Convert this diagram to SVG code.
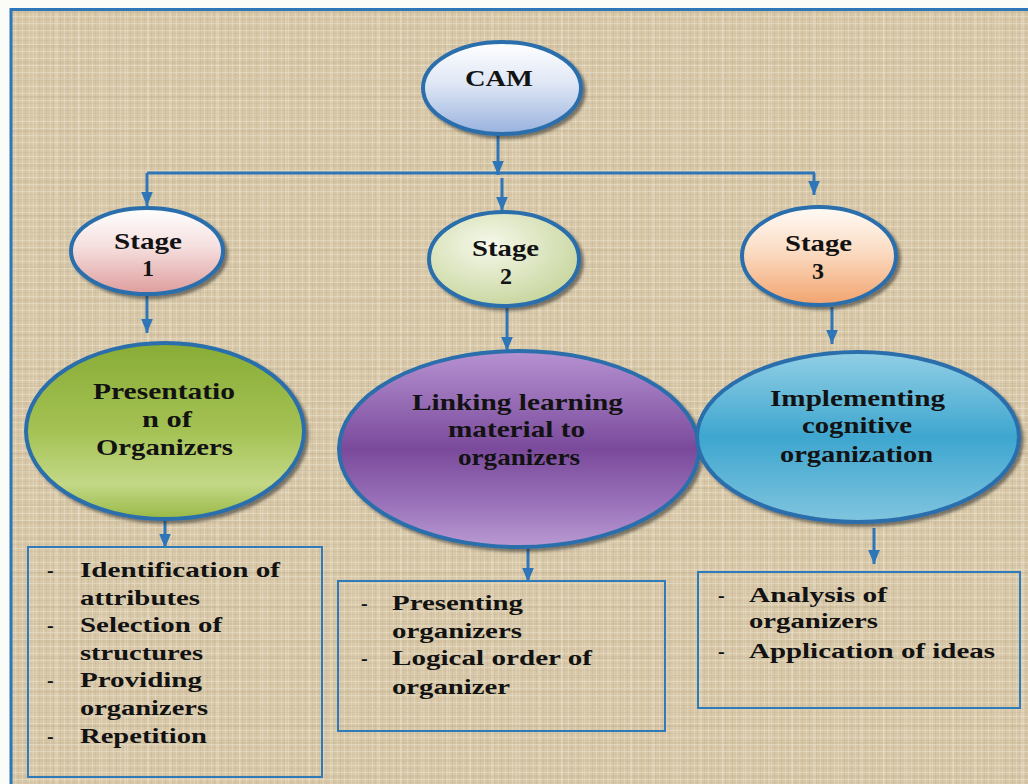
<svg xmlns="http://www.w3.org/2000/svg" width="1028" height="784" viewBox="0 0 1028 784">
<defs>
<style>
.t{font-family:"Liberation Serif","Times New Roman",Times,serif;font-weight:bold;fill:#121212}
.big{font-size:24px}
.box{font-size:20px}
.el{stroke:#2a6eab;stroke-width:4}
.bx{fill:none;stroke:#2f7ab8;stroke-width:2}
.cn{fill:none;stroke:#2f76b8;stroke-width:3}
</style>
<pattern id="texA" width="7" height="7" patternUnits="userSpaceOnUse">
<rect width="7" height="7" fill="#d8c8a8"/>
<rect x="1" y="0" width="1" height="7" fill="#e6dcc6" opacity="0.6"/>
<rect x="4" y="0" width="1" height="7" fill="#c4b394" opacity="0.4"/>
<rect x="0" y="2" width="7" height="1" fill="#e8dfca" opacity="0.6"/>
<rect x="0" y="5" width="7" height="1" fill="#c6b596" opacity="0.35"/>
</pattern>
<pattern id="texB" width="23" height="17" patternUnits="userSpaceOnUse">
<rect x="9" y="0" width="2" height="17" fill="#efe7d5" opacity="0.3"/>
<rect x="0" y="11" width="23" height="2" fill="#b9a888" opacity="0.2"/>
</pattern>
<linearGradient id="gCam" x1="0" y1="0" x2="0" y2="1">
<stop offset="0" stop-color="#ffffff"/><stop offset="0.45" stop-color="#dfe7f5"/><stop offset="1" stop-color="#98b1de"/>
</linearGradient>
<linearGradient id="gS1" x1="0" y1="0" x2="0" y2="1">
<stop offset="0" stop-color="#ffffff"/><stop offset="0.45" stop-color="#f6dfdf"/><stop offset="1" stop-color="#de9c9c"/>
</linearGradient>
<radialGradient id="gS2" cx="0.4" cy="0.35" r="0.7">
<stop offset="0" stop-color="#f6f8ea"/><stop offset="1" stop-color="#c6d59c"/>
</radialGradient>
<linearGradient id="gS3" x1="0" y1="0" x2="0" y2="1">
<stop offset="0" stop-color="#fffbf7"/><stop offset="0.45" stop-color="#fbdcc3"/><stop offset="1" stop-color="#f2a36e"/>
</linearGradient>
<linearGradient id="gGreen" x1="0" y1="0" x2="0" y2="1">
<stop offset="0" stop-color="#89ac36"/><stop offset="0.5" stop-color="#a4c254"/><stop offset="0.8" stop-color="#c3d886"/><stop offset="1" stop-color="#98b946"/>
</linearGradient>
<linearGradient id="gPurple" x1="0" y1="0" x2="0" y2="1">
<stop offset="0" stop-color="#b692d2"/><stop offset="0.5" stop-color="#7a4a9b"/><stop offset="0.78" stop-color="#9a72ba"/><stop offset="1" stop-color="#b99ad2"/>
</linearGradient>
<linearGradient id="gBlue" x1="0" y1="0" x2="0" y2="1">
<stop offset="0" stop-color="#92cfe5"/><stop offset="0.5" stop-color="#3ea6cf"/><stop offset="1" stop-color="#80c5df"/>
</linearGradient>
<filter id="sh" x="-10%" y="-10%" width="125%" height="130%">
<feDropShadow dx="3" dy="3" stdDeviation="1.5" flood-color="#2a2a2a" flood-opacity="0.55"/>
</filter>
<marker id="ar" viewBox="0 0 12 10" refX="12" refY="5" markerWidth="14" markerHeight="12" markerUnits="userSpaceOnUse" orient="auto">
<path d="M0,0 L12,5 L0,10 z" fill="#2f76b8"/>
</marker>
</defs>

<rect width="1028" height="784" fill="#fbfbf8"/>
<rect x="10" y="9" width="1018" height="775" fill="url(#texA)"/>
<rect x="10" y="9" width="1018" height="775" fill="url(#texB)"/>
<path d="M11,784 L11,9.5 L1028,9.5" fill="none" stroke="#2f76b8" stroke-width="3"/>

<g id="connectors">
<line class="cn" x1="498" y1="135" x2="498" y2="175" marker-end="url(#ar)"/>
<line class="cn" x1="147" y1="173" x2="815" y2="173"/>
<line class="cn" x1="147" y1="173" x2="147" y2="206" marker-end="url(#ar)"/>
<line class="cn" x1="502" y1="178" x2="502" y2="211" marker-end="url(#ar)"/>
<line class="cn" x1="814" y1="173" x2="814" y2="195" marker-end="url(#ar)"/>
<line class="cn" x1="147" y1="295" x2="147" y2="333" marker-end="url(#ar)"/>
<line class="cn" x1="507" y1="307" x2="507" y2="351" marker-end="url(#ar)"/>
<line class="cn" x1="832" y1="307" x2="832" y2="344" marker-end="url(#ar)"/>
<line class="cn" x1="165" y1="521" x2="165" y2="548" marker-end="url(#ar)"/>
<line class="cn" x1="528" y1="548" x2="528" y2="582" marker-end="url(#ar)"/>
<line class="cn" x1="874" y1="528" x2="874" y2="564" marker-end="url(#ar)"/>
</g>

<g id="cam">
<ellipse class="el" cx="502" cy="88" rx="79" ry="46" fill="url(#gCam)" filter="url(#sh)"/>
<text class="t big" x="465" y="86" textLength="68" lengthAdjust="spacingAndGlyphs">CAM</text>
</g>

<g id="stage1">
<ellipse class="el" cx="147" cy="251" rx="76" ry="43" fill="url(#gS1)" filter="url(#sh)"/>
<text class="t big" x="114" y="249" textLength="68" lengthAdjust="spacingAndGlyphs">Stage</text>
<text class="t big" x="148" y="276" text-anchor="middle">1</text>
</g>

<g id="stage2">
<ellipse class="el" cx="504" cy="259" rx="75" ry="47" fill="url(#gS2)" filter="url(#sh)"/>
<text class="t big" x="472" y="256" textLength="67" lengthAdjust="spacingAndGlyphs">Stage</text>
<text class="t big" x="506" y="284" text-anchor="middle">2</text>
</g>

<g id="stage3">
<ellipse class="el" cx="819" cy="256" rx="77" ry="49" fill="url(#gS3)" filter="url(#sh)"/>
<text class="t big" x="785" y="251" textLength="67" lengthAdjust="spacingAndGlyphs">Stage</text>
<text class="t big" x="818" y="279" text-anchor="middle">3</text>
</g>

<g id="presentation">
<ellipse class="el" cx="165" cy="431" rx="139" ry="88" fill="url(#gGreen)" filter="url(#sh)"/>
<text class="t big" x="93" y="399" textLength="142" lengthAdjust="spacingAndGlyphs">Presentatio</text>
<text class="t big" x="142" y="427" textLength="50" lengthAdjust="spacingAndGlyphs">n of</text>
<text class="t big" x="96" y="455" textLength="137" lengthAdjust="spacingAndGlyphs">Organizers</text>
</g>

<g id="linking">
<ellipse class="el" cx="519" cy="449" rx="180" ry="98" fill="url(#gPurple)" filter="url(#sh)"/>
<text class="t big" x="412" y="410" textLength="211" lengthAdjust="spacingAndGlyphs">Linking learning</text>
<text class="t big" x="448" y="437" textLength="137" lengthAdjust="spacingAndGlyphs">material to</text>
<text class="t big" x="458" y="465" textLength="122" lengthAdjust="spacingAndGlyphs">organizers</text>
</g>

<g id="implementing">
<ellipse class="el" cx="858" cy="437" rx="161" ry="85" fill="url(#gBlue)" filter="url(#sh)"/>
<text class="t big" x="770" y="406" textLength="175" lengthAdjust="spacingAndGlyphs">Implementing</text>
<text class="t big" x="802" y="433" textLength="110" lengthAdjust="spacingAndGlyphs">cognitive</text>
<text class="t big" x="780" y="462" textLength="153" lengthAdjust="spacingAndGlyphs">organization</text>
</g>

<g id="box1">
<rect class="bx" x="28" y="547" width="294" height="230"/>
<text class="t box" x="47" y="577">-</text>
<text class="t box" x="80" y="577" textLength="200" lengthAdjust="spacingAndGlyphs">Identification of</text>
<text class="t box" x="80" y="605" textLength="120" lengthAdjust="spacingAndGlyphs">attributes</text>
<text class="t box" x="47" y="632">-</text>
<text class="t box" x="80" y="632" textLength="142" lengthAdjust="spacingAndGlyphs">Selection of</text>
<text class="t box" x="80" y="660" textLength="123" lengthAdjust="spacingAndGlyphs">structures</text>
<text class="t box" x="47" y="687">-</text>
<text class="t box" x="80" y="687" textLength="122" lengthAdjust="spacingAndGlyphs">Providing</text>
<text class="t box" x="80" y="715" textLength="128" lengthAdjust="spacingAndGlyphs">organizers</text>
<text class="t box" x="47" y="743">-</text>
<text class="t box" x="80" y="743" textLength="127" lengthAdjust="spacingAndGlyphs">Repetition</text>
</g>

<g id="box2">
<rect class="bx" x="338" y="581" width="327" height="150"/>
<text class="t box" x="361" y="610">-</text>
<text class="t box" x="392" y="610" textLength="131" lengthAdjust="spacingAndGlyphs">Presenting</text>
<text class="t box" x="392" y="638" textLength="130" lengthAdjust="spacingAndGlyphs">organizers</text>
<text class="t box" x="361" y="665">-</text>
<text class="t box" x="392" y="665" textLength="200" lengthAdjust="spacingAndGlyphs">Logical order of</text>
<text class="t box" x="392" y="694" textLength="118" lengthAdjust="spacingAndGlyphs">organizer</text>
</g>

<g id="box3">
<rect class="bx" x="698" y="572" width="322" height="136"/>
<text class="t box" x="718" y="602">-</text>
<text class="t box" x="749" y="602" textLength="138" lengthAdjust="spacingAndGlyphs">Analysis of</text>
<text class="t box" x="749" y="628" textLength="129" lengthAdjust="spacingAndGlyphs">organizers</text>
<text class="t box" x="718" y="658">-</text>
<text class="t box" x="749" y="658" textLength="246" lengthAdjust="spacingAndGlyphs">Application of ideas</text>
</g>
</svg>
